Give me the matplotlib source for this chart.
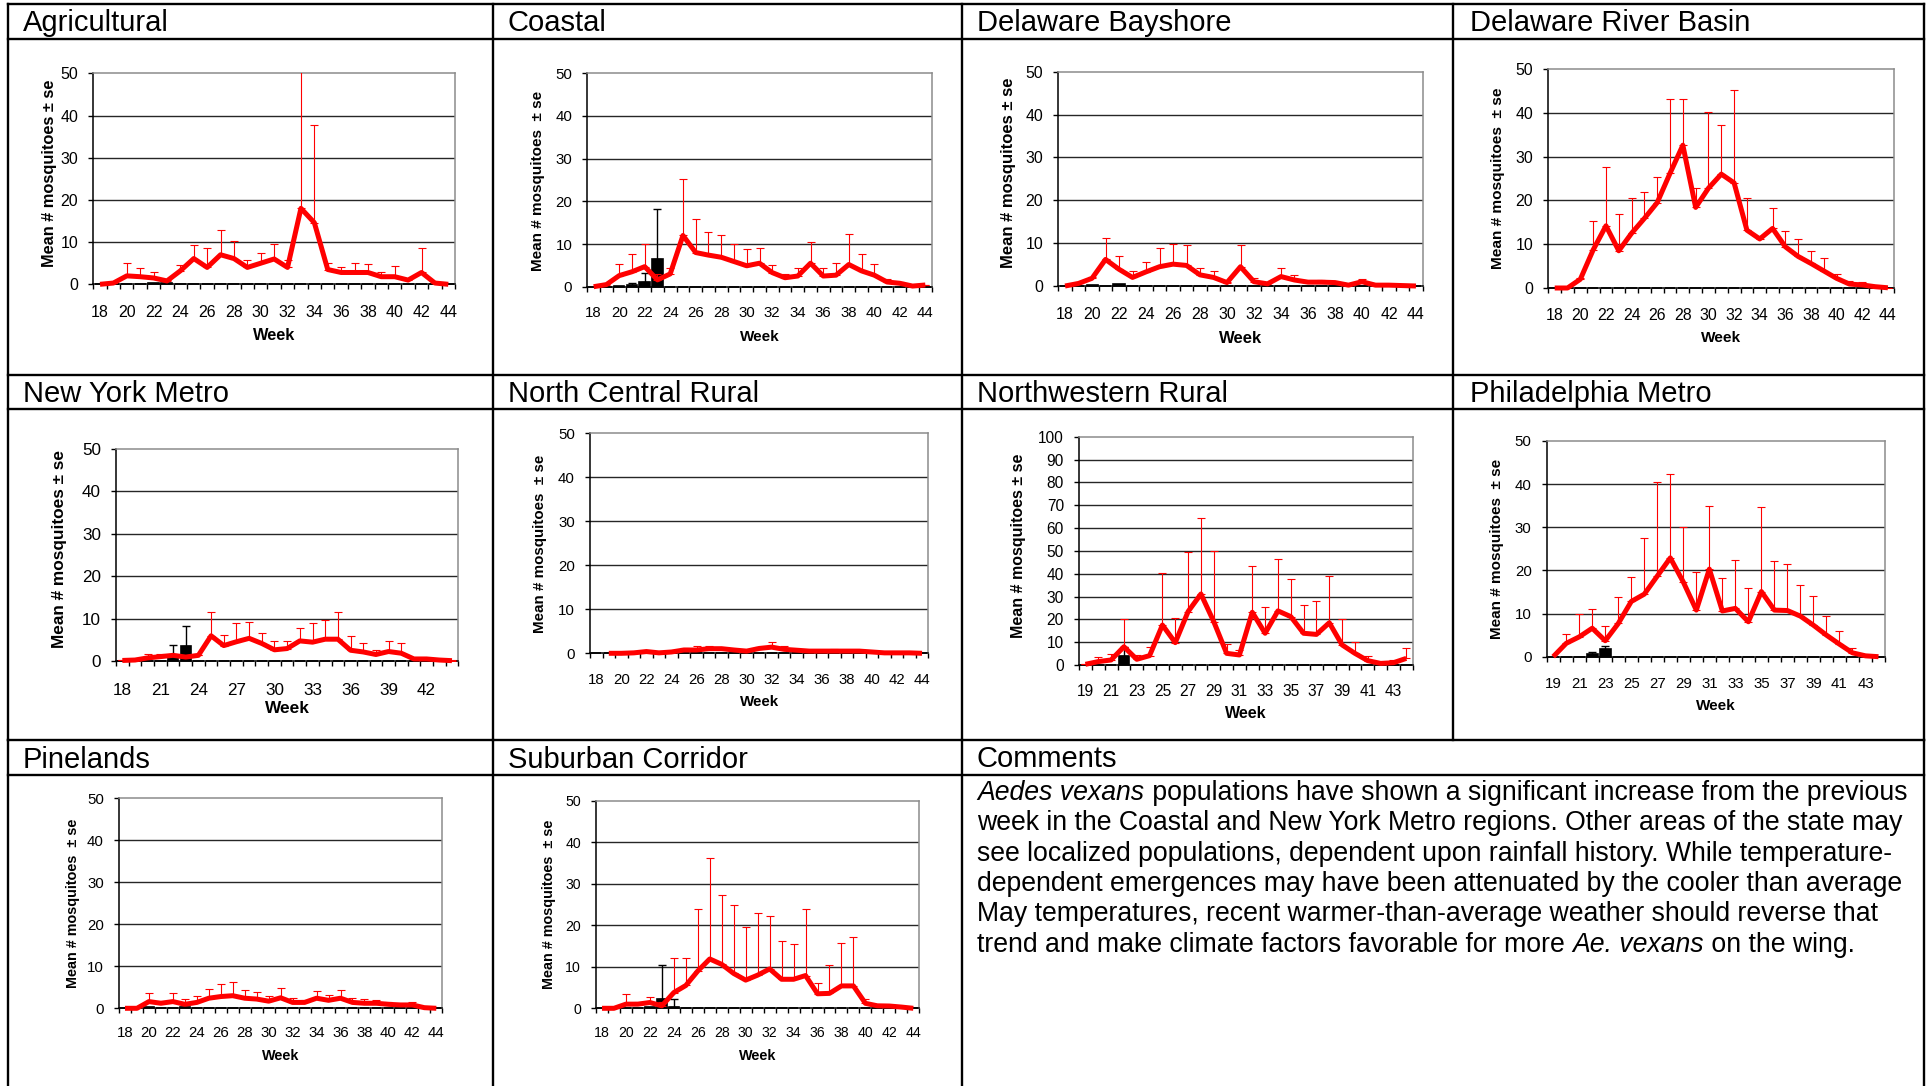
import matplotlib
matplotlib.use("Agg")
import matplotlib.pyplot as plt
import numpy as np

# ---------------------------------------------------------------------------
# Weekly Aedes vexans trap counts by region: long-term mean (red line) with
# upper standard error, and current-season counts (black columns) with se.
# ---------------------------------------------------------------------------
weeks_18 = list(range(18, 45))
weeks_19 = list(range(19, 45))

agri_mean = [0, 0.3, 2.0, 1.8, 1.5, 0.8, 3.2, 6.1, 4.0, 7.0, 6.1, 4.0, 5.0, 6.0,
             4.0, 18.0, 14.6, 3.5, 2.8, 2.8, 2.8, 1.8, 1.8, 1.0, 2.8, 0.3, 0]
agri_se = [0, 0.1, 3.1, 2.0, 1.5, 0.2, 1.4, 3.2, 4.6, 5.9, 4.2, 1.8, 2.3, 3.6,
           1.8, 37.0, 23.2, 1.5, 1.2, 2.3, 2.0, 1.2, 2.5, 0.3, 5.7, 0.2, 0]
agri_cur = [0, 0, 0.1, 0.1, 0.3, 0.4]
agri_cur_se = [0, 0, 0, 0, 0, 0]

coastal_mean = [0, 0.5, 2.6, 3.5, 4.7, 1.6, 3.0, 12.0, 8.0, 7.4, 6.9, 5.9, 4.9, 5.5,
                3.3, 2.1, 2.5, 5.5, 2.5, 2.7, 5.2, 3.7, 2.7, 1.1, 0.8, 0.15, 0.4]
coastal_se = [0, 0.1, 2.7, 4.1, 5.2, 1.3, 1.3, 13.2, 7.9, 5.3, 5.2, 4.0, 4.0, 3.6,
              1.7, 0.9, 1.8, 5.0, 1.8, 2.8, 7.1, 3.9, 2.6, 0.6, 0.4, 0.05, 0.1]
coastal_cur = [0, 0, 0.05, 0.3, 1.2, 6.4]
coastal_cur_se = [0, 0, 0, 0.6, 1.9, 11.8]

bayshore_mean = [0, 0.6, 1.8, 6.2, 3.9, 2.0, 3.3, 4.5, 5.1, 4.8, 2.6, 2.0, 0.8, 4.5,
                 1.0, 0.5, 2.2, 1.4, 0.9, 0.9, 0.8, 0.2, 1.0, 0.2, 0.2, 0.1, 0]
bayshore_se = [0, 0.1, 0.4, 5.1, 3.2, 1.6, 2.4, 4.3, 4.7, 4.8, 1.7, 1.6, 0.2, 5.1,
               0.9, 0.1, 2.1, 1.1, 0.3, 0.5, 0.2, 0.1, 0.7, 0.1, 0.1, 0.05, 0]
bayshore_cur = [0, 0, 0.2, 0.1, 0.4, 0]
bayshore_cur_se = [0, 0, 0, 0, 0, 0]

drb_mean = [0, 0, 2.0, 8.7, 14.2, 8.5, 12.5, 15.9, 19.5, 26.2, 32.6, 18.4, 22.8, 26.0,
            24.0, 13.2, 11.2, 13.6, 9.4, 7.2, 5.6, 3.9, 2.2, 0.9, 0.7, 0.3, 0.05]
drb_se = [0, 0, 0.2, 6.7, 13.5, 8.5, 8.0, 6.1, 5.9, 17.0, 10.6, 4.5, 17.4, 11.3,
          21.1, 7.3, 0.7, 4.7, 3.5, 3.9, 2.8, 2.9, 1.0, 0.7, 0.7, 0.1, 0.05]
drb_cur = [0, 0, 0, 0, 0, 0]
drb_cur_se = [0, 0, 0, 0, 0, 0]

nym_mean = [0.2, 0.3, 0.8, 1.1, 1.4, 1.0, 1.4, 6.0, 3.7, 4.6, 5.4, 4.2, 2.7, 3.0,
            4.8, 4.5, 5.2, 5.2, 2.6, 2.2, 1.6, 2.3, 1.9, 0.55, 0.55, 0.3, 0.15]
nym_se = [0.1, 0.1, 0.9, 0.6, 0.2, 0.2, 0.1, 5.7, 2.6, 4.4, 3.9, 2.4, 2.1, 1.8,
          3.1, 4.5, 4.6, 6.5, 3.3, 2.0, 1.1, 2.5, 2.3, 0.15, 0.15, 0.1, 0.05]
nym_cur = [0, 0, 0, 0, 1.3, 3.5]
nym_cur_se = [0, 0, 0, 0, 2.6, 4.9]

ncr_mean = [np.nan, 0, 0, 0.1, 0.4, 0.1, 0.3, 0.75, 0.75, 1.05, 1.05, 0.75, 0.5, 1.1,
            1.4, 0.9, 0.7, 0.5, 0.5, 0.5, 0.5, 0.5, 0.3, 0.1, 0.1, 0.1, 0]
ncr_se = [np.nan, 0, 0, 0.05, 0.2, 0.05, 0.1, 0.35, 0.95, 0.65, 0.25, 0.1, 0.1, 0.4,
          1.25, 0.8, 0.2, 0.1, 0.1, 0.4, 0.25, 0.25, 0.1, 0.05, 0.05, 0.05, 0]
ncr_cur = [0, 0, 0, 0, 0, 0]
ncr_cur_se = [0, 0, 0, 0, 0, 0]

nwr_mean = [0.3, 1.5, 2.2, 8.0, 2.5, 4.1, 17.5, 9.8, 23.4, 31.1, 19.0, 5.1, 4.4,
            23.1, 13.9, 23.7, 21.2, 13.9, 13.4, 18.5, 8.8, 5.1, 1.9, 0.7, 1.0, 2.9]
nwr_se = [0.1, 1.8, 2.6, 12.0, 1.9, 3.6, 22.6, 10.6, 25.9, 33.1, 30.9, 4.0, 2.2,
          20.4, 11.5, 22.7, 16.5, 12.4, 14.6, 20.6, 11.2, 5.1, 2.0, 0.3, 1.2, 4.4]
nwr_cur = [0, 0, 0, 3.9, 0]
nwr_cur_se = [0, 0, 0, 4.0, 0]

phl_mean = [0, 3.1, 4.6, 6.6, 3.7, 7.7, 12.8, 14.5, 18.7, 22.9, 17.3, 10.8, 20.3,
            10.6, 11.2, 8.1, 15.1, 10.8, 10.7, 9.4, 7.3, 5.0, 2.9, 0.9, 0.2, 0]
phl_se = [0, 2.1, 5.2, 4.5, 3.4, 6.2, 5.6, 13.1, 21.9, 19.5, 12.8, 8.9, 14.6,
          7.6, 11.2, 7.9, 19.7, 11.4, 10.9, 7.3, 6.8, 4.5, 3.1, 1.2, 0.1, 0]
phl_cur = [0, 0, 0, 0.6, 1.9]
phl_cur_se = [0, 0, 0, 0.6, 0.6]

pine_mean = [0, 0, 1.6, 1.2, 1.6, 0.95, 1.4, 2.4, 2.8, 3.0, 2.4, 2.2, 1.7, 2.5,
             1.4, 1.4, 2.4, 1.9, 2.4, 1.4, 1.2, 1.2, 0.95, 0.8, 0.8, 0.15, 0]
pine_se = [0, 0, 2.1, 0.6, 2.1, 1.25, 1.5, 2.2, 3.1, 3.3, 2.0, 1.7, 1.2, 2.4,
           1.0, 0.6, 1.7, 1.3, 2.0, 1.0, 0.9, 0.8, 0.45, 0.3, 0.6, 0.05, 0]
pine_cur = [0, 0, 0.2, 0, 0, 0.2]
pine_cur_se = [0, 0, 0, 0, 0, 0]

sub_mean = [0, 0, 1.0, 1.0, 1.4, 0.6, 3.8, 5.5, 9.0, 11.9, 10.6, 8.4, 6.8, 8.0,
            9.5, 7.0, 7.0, 7.9, 3.5, 3.6, 5.4, 5.4, 1.2, 0.6, 0.55, 0.3, 0]
sub_se = [0, 0, 2.5, 0.6, 1.3, 0.9, 8.3, 6.6, 15.0, 24.4, 16.7, 16.5, 12.7, 14.9,
          12.8, 9.3, 8.6, 16.1, 2.6, 6.9, 10.4, 11.7, 1.0, 0.2, 0.15, 0.1, 0]
sub_cur = [0, 0, 0, 0.1, 0.2, 2.25, 0.3]
sub_cur_se = [0, 0, 0, 0, 0, 8.25, 1.95]

labels_even = list(range(18, 45, 2))
labels_three = list(range(18, 43, 3))
labels_odd = list(range(19, 44, 2))

YLAB_A = "Mean # mosquitoes ± se"
YLAB_B = "Mean # mosquitoes  ± se"

comment_lines = [
    [("Aedes vexans", "italic"),
     (" populations have shown a significant increase from the previous", "normal")],
    [("week in the Coastal and New York Metro regions. Other areas of the state may", "normal")],
    [("see localized populations, dependent upon rainfall history. While temperature-", "normal")],
    [("dependent emergences may have been attenuated by the cooler than average", "normal")],
    [("May temperatures, recent warmer-than-average weather should reverse that", "normal")],
    [("trend and make climate factors favorable for more ", "normal"),
     ("Ae. vexans", "italic"), (" on the wing.", "normal")],
]

# ---------------------------------------------------------------------------
W, H = 1931, 1086
plt.rcParams['font.family'] = ['Liberation Sans', 'DejaVu Sans']

fig = plt.figure(figsize=(W / 100, H / 100), dpi=100)
fig.patch.set_facecolor('white')

# full-figure layer in pixel units for the table frame and free text
ov = fig.add_axes([0, 0, 1, 1], zorder=0)
ov.set_xlim(0, W)
ov.set_ylim(H, 0)
ov.axis('off')

TAB_LW = 1.7
col_x = [7.8, 493.0, 962.3, 1453.3, 1923.8]
row_top = [4.3, 374.5, 740.2]
title_sep = [38.8, 408.8, 775.2]
for y in row_top + title_sep:
    ov.plot([col_x[0], col_x[-1]], [y, y], color='black', lw=TAB_LW, solid_capstyle='projecting')
for x in col_x:
    ov.plot([x, x], [row_top[0], row_top[2]], color='black', lw=TAB_LW, solid_capstyle='projecting')
for x in (col_x[0], col_x[1], col_x[2], col_x[4]):
    ov.plot([x, x], [row_top[2], H], color='black', lw=TAB_LW, solid_capstyle='projecting')

TITLE_FS = 21
titles = [("Agricultural", 23, 31), ("Coastal", 508, 31), ("Delaware Bayshore", 977, 31),
          ("Delaware River Basin", 1470, 31), ("New York Metro", 23, 401.5),
          ("North Central Rural", 508, 401.5), ("Northwestern Rural", 977, 401.5),
          ("Philadelphia Metro", 1470, 401.5), ("Pinelands", 23, 767.5),
          ("Suburban Corridor", 508, 767.5), ("Comments", 977, 767)]
for s, x, y in titles:
    ov.text(x, y, s, fontsize=TITLE_FS, ha='left', va='baseline', color='black')

panels = [
    dict(box=(93.3, 455.0, 73.3, 284.3), weeks=weeks_18, mean=agri_mean, se=agri_se,
         cur=agri_cur, cur_se=agri_cur_se, ymax=50, ystep=10, labels=labels_even,
         tfs=11.5, lfs=11.8, ylab=YLAB_A, ylab_xy=(49.3, 173.3), xt_cy=310.7, wk_cy=336.0),
    dict(box=(587.3, 931.7, 73.3, 286.7), weeks=weeks_18, mean=coastal_mean, se=coastal_se,
         cur=coastal_cur, cur_se=coastal_cur_se, ymax=50, ystep=10, labels=labels_even,
         tfs=10.8, lfs=11.0, ylab=YLAB_B, ylab_xy=(537.7, 180.8), xt_cy=311.7, wk_cy=337.3),
    dict(box=(1058.3, 1422.7, 71.7, 286.0), weeks=weeks_18, mean=bayshore_mean, se=bayshore_se,
         cur=bayshore_cur, cur_se=bayshore_cur_se, ymax=50, ystep=10, labels=labels_even,
         tfs=11.4, lfs=12.0, ylab=YLAB_A, ylab_xy=(1008.3, 172.8), xt_cy=312.7, wk_cy=338.3),
    dict(box=(1548.3, 1894.3, 69.0, 288.0), weeks=weeks_18, mean=drb_mean, se=drb_se,
         cur=drb_cur, cur_se=drb_cur_se, ymax=50, ystep=10, labels=labels_even,
         tfs=11.4, lfs=11.1, ylab=YLAB_B, ylab_xy=(1498.3, 178.3), xt_cy=313.3, wk_cy=338.3),
    dict(box=(116.0, 458.3, 448.7, 661.3), weeks=weeks_18, mean=nym_mean, se=nym_se,
         cur=nym_cur, cur_se=nym_cur_se, ymax=50, ystep=10, labels=labels_three,
         tfs=12.3, lfs=12.4, ylab=YLAB_A, ylab_xy=(60.0, 549.2), xt_cy=689.0, wk_cy=708.3),
    dict(box=(590.0, 928.3, 433.3, 653.3), weeks=weeks_18, mean=ncr_mean, se=ncr_se,
         cur=ncr_cur, cur_se=ncr_cur_se, ymax=50, ystep=10, labels=labels_even,
         tfs=10.8, lfs=10.9, ylab=YLAB_B, ylab_xy=(540.0, 544.2), xt_cy=678.3, wk_cy=702.3),
    dict(box=(1079.0, 1412.7, 436.7, 665.0), weeks=weeks_19, mean=nwr_mean, se=nwr_se,
         cur=nwr_cur, cur_se=nwr_cur_se, ymax=100, ystep=10, labels=labels_odd,
         tfs=11.2, lfs=11.5, ylab=YLAB_A, ylab_xy=(1018.3, 545.8), xt_cy=689.3, wk_cy=713.3),
    dict(box=(1546.7, 1885.0, 441.0, 656.7), weeks=weeks_19, mean=phl_mean, se=phl_se,
         cur=phl_cur, cur_se=phl_cur_se, ymax=50, ystep=10, labels=labels_odd,
         tfs=10.8, lfs=11.0, ylab=YLAB_B, ylab_xy=(1496.7, 549.2), xt_cy=682.0, wk_cy=706.0),
    dict(box=(119.0, 442.3, 798.3, 1008.3), weeks=weeks_18, mean=pine_mean, se=pine_se,
         cur=pine_cur, cur_se=pine_cur_se, ymax=50, ystep=10, labels=labels_even,
         tfs=10.8, lfs=10.4, ylab=YLAB_B, ylab_xy=(72.7, 903.0), xt_cy=1031.7, wk_cy=1055.7),
    dict(box=(596.0, 919.3, 801.0, 1008.3), weeks=weeks_18, mean=sub_mean, se=sub_se,
         cur=sub_cur, cur_se=sub_cur_se, ymax=50, ystep=10, labels=labels_even,
         tfs=10.2, lfs=10.4, ylab=YLAB_B, ylab_xy=(549.3, 904.5), xt_cy=1031.0, wk_cy=1055.7),
]

RED = '#ff0000'
PX_PER_PT = 100 / 72


def draw_panel(p):
    L, R, T, B = p['box']
    ax = fig.add_axes([L / W, 1 - B / H, (R - L) / W, (B - T) / H], zorder=2)
    ax.set_facecolor('white')
    weeks = np.array(p['weeks'])
    ax.set_xlim(weeks[0] - 0.5, weeks[-1] + 0.5)
    ax.set_ylim(0, p['ymax'])

    yt = np.arange(0, p['ymax'] + 1, p['ystep'])
    for v in yt[1:-1]:
        ax.axhline(v, color='#262626', lw=1.0, zorder=1)

    # current-season columns (weeks without collections sit at zero)
    cur = np.array(p['cur'], float)
    cur_se = np.array(p['cur_se'], float)
    ncur = len(cur)
    heights = np.concatenate([cur, np.zeros(len(weeks) - ncur)])
    ax.bar(weeks, heights, width=0.82, color='black', edgecolor='black', lw=1.2,
           zorder=2.6, clip_on=False)
    m = cur_se > 0
    if m.any():
        ax.errorbar(weeks[:ncur][m], cur[m], yerr=[np.zeros(m.sum()), cur_se[m]],
                    fmt='none', ecolor='black', elinewidth=1.0, capsize=2.6,
                    capthick=1.0, zorder=3)

    mean = np.array(p['mean'], float)
    se = np.array(p['se'], float)
    ok = np.isfinite(mean) & np.isfinite(se) & (se > 0)
    ax.errorbar(weeks[ok], mean[ok], yerr=[np.zeros(ok.sum()), se[ok]], fmt='none',
                ecolor=RED, elinewidth=0.8, capsize=2.6, capthick=0.8, zorder=3.5)
    ax.plot(weeks, mean, color=RED, lw=3.6, solid_joinstyle='round',
            solid_capstyle='butt', zorder=4, clip_on=False)

    for s in ('left', 'bottom'):
        ax.spines[s].set_color('black')
        ax.spines[s].set_linewidth(1.1)
    for s in ('top', 'right'):
        ax.spines[s].set_color('#8c8c8c')
        ax.spines[s].set_linewidth(1.1)

    ax.set_yticks(yt)
    ax.set_yticklabels([str(int(v)) for v in yt])
    ax.tick_params(axis='y', which='major', direction='out', length=3.6, width=1.0,
                   color='black', pad=7.2, labelsize=p['tfs'], labelcolor='black')
    em_px = p['tfs'] * PX_PER_PT
    xpad = (p['xt_cy'] - 0.358 * em_px - B) / PX_PER_PT
    ax.set_xticks(p['labels'])
    ax.set_xticklabels([str(v) for v in p['labels']])
    ax.set_xticks(np.arange(weeks[0] - 0.5, weeks[-1] + 1.0), minor=True)
    ax.tick_params(axis='x', which='major', length=0, pad=xpad,
                   labelsize=p['tfs'], labelcolor='black')
    ax.tick_params(axis='x', which='minor', direction='out', length=3.6, width=1.0,
                   color='black')

    ov.text(p['ylab_xy'][0], p['ylab_xy'][1], p['ylab'], rotation=90, ha='center',
            va='center', fontsize=p['lfs'], fontweight='bold', color='black')
    ov.text((L + R) / 2, p['wk_cy'], 'Week', ha='center', va='center',
            fontsize=p['lfs'], fontweight='bold', color='black')
    return ax


for p in panels:
    draw_panel(p)

# ---- comments paragraph with italic species names ----
renderer = fig.canvas.get_renderer()


def run_width(s, size, style):
    t1 = ov.text(0, 0, 'X' + s + 'X', fontsize=size, style=style)
    t2 = ov.text(0, 0, 'XX', fontsize=size, style=style)
    w = t1.get_window_extent(renderer).width - t2.get_window_extent(renderer).width
    t1.remove()
    t2.remove()
    return w


BASE = 15.0
line1_w = sum(run_width(s, BASE, st) for s, st in comment_lines[0])
COMMENT_FS = BASE * 934.0 / line1_w

x0, y0, dy = 977.5, 800.0, 30.35
for i, runs in enumerate(comment_lines):
    x = x0
    for s, st in runs:
        ov.text(x, y0 + i * dy, s, fontsize=COMMENT_FS, style=st, ha='left',
                va='baseline', color='black')
        x += run_width(s, COMMENT_FS, st)

fig.savefig('out.png', dpi=100, facecolor='white')
